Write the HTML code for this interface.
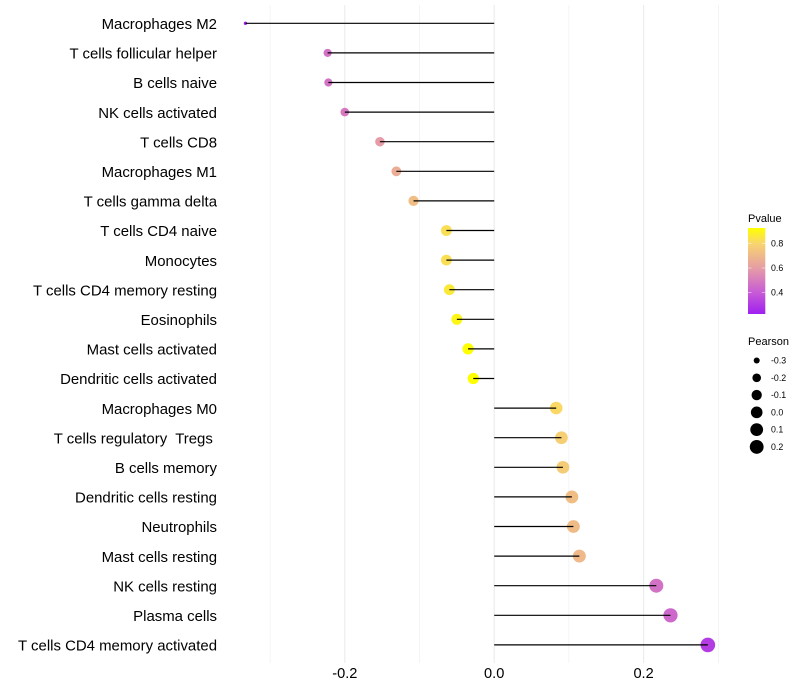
<!DOCTYPE html>
<html>
<head>
<meta charset="utf-8">
<style>
html,body{margin:0;padding:0;background:#fff;}
svg{display:block;font-family:"Liberation Sans",sans-serif;}
text{white-space:pre;}
</style>
</head>
<body>
<svg id="chart" width="800" height="700" viewBox="0 0 800 700" xmlns="http://www.w3.org/2000/svg">
<defs>
<linearGradient id="pgrad" x1="0" y1="1" x2="0" y2="0">
<stop offset="0" stop-color="#a020f0"/>
<stop offset="0.25" stop-color="#c75bd6"/>
<stop offset="0.53" stop-color="#e59ca6"/>
<stop offset="0.82" stop-color="#f8d56e"/>
<stop offset="1" stop-color="#ffff00"/>
</linearGradient>
</defs>
</svg>
<script>
var categories = ["Macrophages M2","T cells follicular helper","B cells naive","NK cells activated","T cells CD8","Macrophages M1","T cells gamma delta","T cells CD4 naive","Monocytes","T cells CD4 memory resting","Eosinophils","Mast cells activated","Dendritic cells activated","Macrophages M0","T cells regulatory  Tregs ","B cells memory","Dendritic cells resting","Neutrophils","Mast cells resting","NK cells resting","Plasma cells","T cells CD4 memory activated"];
var pearson = [-0.333,-0.223,-0.222,-0.2,-0.153,-0.131,-0.108,-0.064,-0.064,-0.06,-0.05,-0.035,-0.028,0.083,0.09,0.092,0.104,0.106,0.114,0.217,0.236,0.286];
var pvalues = [0.23,0.47,0.47,0.49,0.6,0.66,0.72,0.83,0.83,0.86,0.9,0.93,0.93,0.81,0.78,0.77,0.72,0.71,0.7,0.47,0.44,0.31];
var xMajorTicks = [-0.2,0,0.2];
var xMinorTicks = [-0.3,-0.1,0.1,0.3];
var pvalueTicks = [0.8,0.6,0.4];
var pearsonLegend = [-0.3,-0.2,-0.1,0,0.1,0.2];

var NS = 'http://www.w3.org/2000/svg';
var svg = document.getElementById('chart');
var panelTop = 5, panelBottom = 663;

function xScale(v){ return 494.2 + 747 * v; }
function yScale(i){ return 23.3 + 29.6 * i; }
function pvalueY(p){ return 243.5 + (0.8 - p) * 122.5; }
function sizeScale(v){
  var lo = Math.min.apply(null, pearson), hi = Math.max.apply(null, pearson);
  var t = Math.max(0, Math.min(1, (v - lo) / ((hi - lo) || 1)));
  return 0.6 + 1.12 * (1 + 5 * Math.sqrt(t));
}
function hex(c){ return [parseInt(c.slice(1,3),16),parseInt(c.slice(3,5),16),parseInt(c.slice(5,7),16)]; }
function colorScale(p){
  var ps = [0.225,0.4,0.6,0.8,0.927];
  var cs = ['#a020f0','#c75bd6','#e59ca6','#f8d56e','#ffff00'];
  if (p <= ps[0]) return cs[0];
  if (p >= ps[4]) return cs[4];
  for (var k = 0; k < 4; k++) {
    if (p <= ps[k+1]) {
      var f = (p - ps[k]) / (ps[k+1] - ps[k]), a = hex(cs[k]), b = hex(cs[k+1]);
      return 'rgb(' + Math.round(a[0]+(b[0]-a[0])*f) + ',' + Math.round(a[1]+(b[1]-a[1])*f) + ',' + Math.round(a[2]+(b[2]-a[2])*f) + ')';
    }
  }
}
function make(tag, attrs, txt){
  var e = document.createElementNS(NS, tag);
  for (var k in attrs) e.setAttribute(k, attrs[k]);
  if (txt !== undefined) e.textContent = txt;
  svg.appendChild(e);
  return e;
}
var el;

// grid
xMinorTicks.forEach(function(v){
  el = make('line',{x1:xScale(v),x2:xScale(v),y1:panelTop,y2:panelBottom,stroke:'#ebebeb','stroke-width':0.55});
  
  
});
xMajorTicks.forEach(function(v){
  el = make('line',{x1:xScale(v),x2:xScale(v),y1:panelTop,y2:panelBottom,stroke:'#ebebeb','stroke-width':1.07});
  
  
  el = make('text',{x:xScale(v),y:678,'text-anchor':'middle','font-size':14.6,fill:'#000'},v.toFixed(1));
  
  
});

// points, then stems, then labels
categories.forEach(function(c,i){
  el = make('circle',{cx:xScale(pearson[i]),cy:yScale(i),r:sizeScale(pearson[i]),fill:colorScale(pvalues[i])});
  
  
  el = make('line',{x1:xScale(0),x2:xScale(pearson[i]),y1:yScale(i),y2:yScale(i),stroke:'#000','stroke-width':1.2});
  
  
  el = make('text',{x:217,y:yScale(i)+5.7,'text-anchor':'end','font-size':14.95,fill:'#000'},c);
  
  
});

// Pvalue legend
el = make('text',{x:748,y:222,'font-size':11,fill:'#000'},'Pvalue');


el = make('rect',{x:748,y:228,width:17.3,height:86,fill:'url(#pgrad)'});


pvalueTicks.forEach(function(p){
  var y = pvalueY(p);
  el = make('line',{x1:748,x2:751.5,y1:y,y2:y,stroke:'#fff','stroke-width':0.6,'stroke-opacity':0.8});
  
  
  el = make('line',{x1:761.8,x2:765.3,y1:y,y2:y,stroke:'#fff','stroke-width':0.6,'stroke-opacity':0.8});
  
  
  el = make('text',{x:771,y:y+3,'font-size':8.8,fill:'#000'},p.toFixed(1));
  
  
});

// Pearson legend
el = make('text',{x:748,y:345,'font-size':11,fill:'#000'},'Pearson');


pearsonLegend.forEach(function(v,i){
  var y = 360.5 + i * 17.28;
  el = make('circle',{cx:756.7,cy:y,r:sizeScale(v),fill:'#000'});
  
  
  el = make('text',{x:771,y:y+3,'font-size':8.8,fill:'#000'},v.toFixed(1));
  
  
});
</script>
</body>
</html>
